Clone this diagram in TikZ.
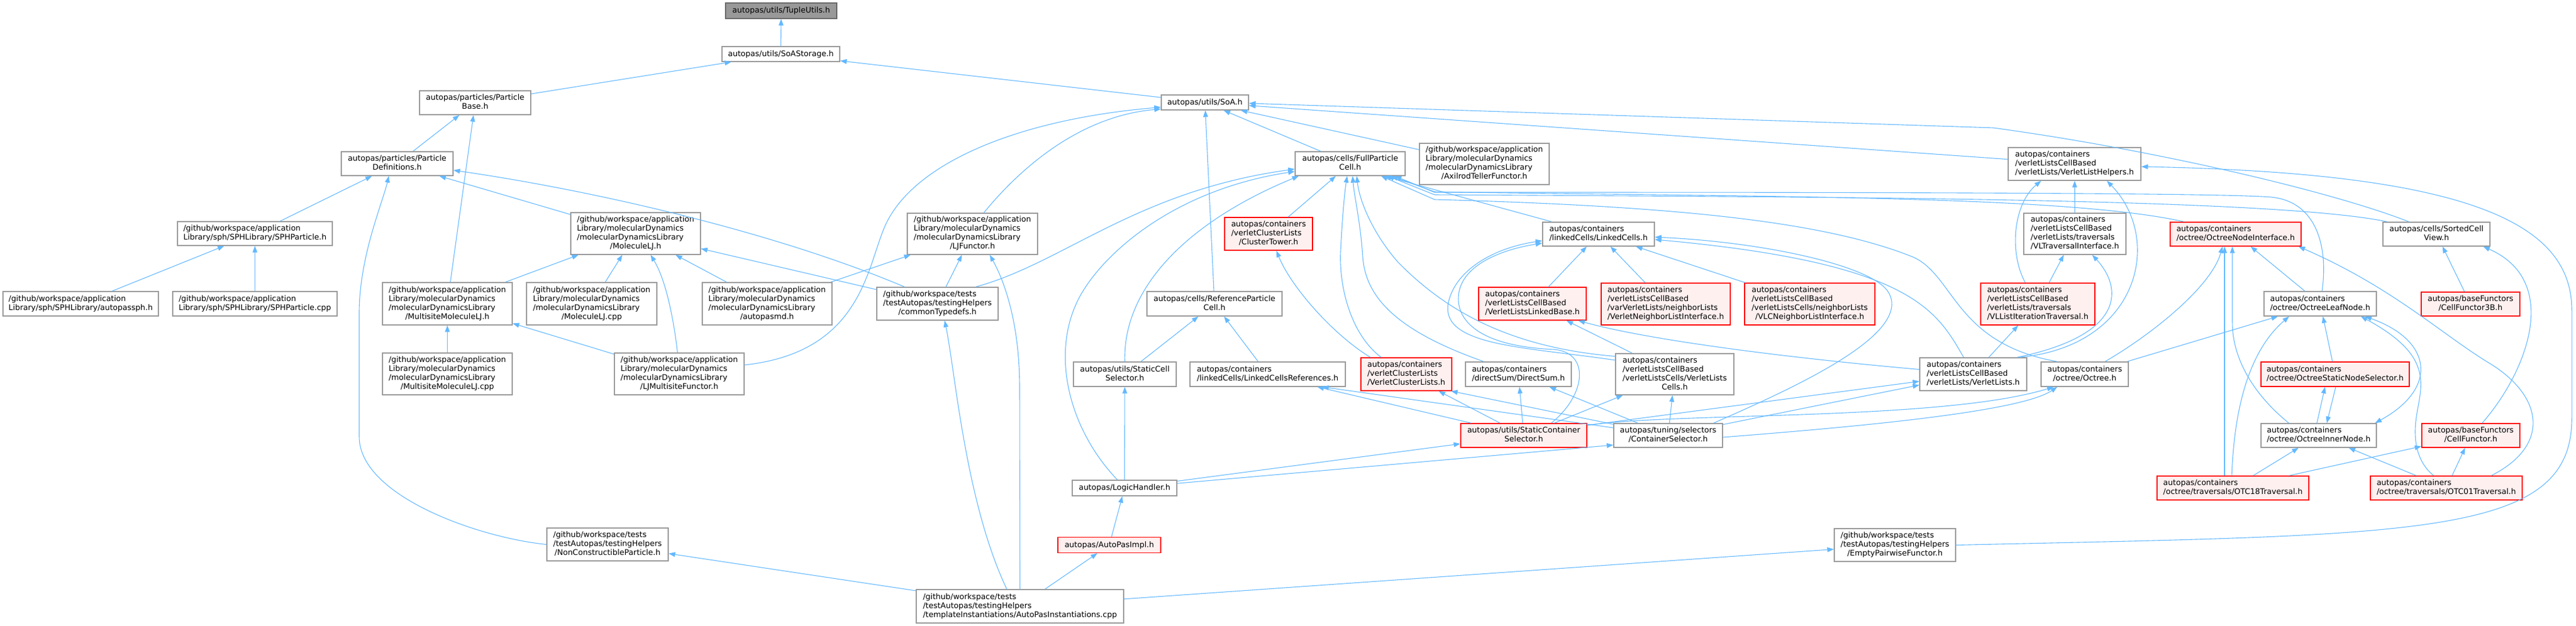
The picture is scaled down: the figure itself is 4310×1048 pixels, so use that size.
\documentclass[tikz,border=0pt]{standalone}
\usepackage{fontspec}
\setmainfont{DejaVu Sans}
\usetikzlibrary{arrows.meta}
\definecolor{edgeblue}{HTML}{63B8FF}
\definecolor{boxgray}{HTML}{999999}
\definecolor{hotfill}{HTML}{FFF0F0}
\definecolor{rootfill}{HTML}{999999}
\definecolor{rootline}{HTML}{666666}
\newcommand{\lbl}[2]{\begin{tabular}{@{}l@{}}#1\\\multicolumn{1}{@{}c@{}}{#2}\end{tabular}}
\newcommand{\mdlib}{/github/workspace/application\\Library/molecularDynamics\\/molecularDynamicsLibrary}
\newcommand{\thelp}{/github/workspace/tests\\/testAutopas/testingHelpers}
\newcommand{\vlcb}{autopas/containers\\/verletListsCellBased}
\tikzset{
  box/.style={draw=boxgray, line width=1.4pt, fill=white, inner sep=0pt, font=\fontsize{13}{15}\selectfont},
  hot/.style={box, draw=red, fill=hotfill},
  rootbox/.style={box, draw=rootline, fill=rootfill},
  sz/.style 2 args={minimum width=#1pt, minimum height=#2pt},
  dep/.style={->, draw=edgeblue, line width=1.1pt},
}
\begin{document}
\begin{tikzpicture}[x=1pt, y=-1pt, >={Triangle[length=11pt,width=8pt]}]
\useasboundingbox (0,0) rectangle (4310,1048);

\node[rootbox, sz={186}{26}] (tuple) at (1307,18) {autopas/utils/TupleUtils.h};
\node[box, sz={197}{25}] (soastor) at (1306.5,90.5) {autopas/utils/SoAStorage.h};
\node[box, sz={186}{40}] (pbase) at (795,172) {\lbl{autopas/particles/Particle}{Base.h}};
\node[box, sz={146}{25}] (soa) at (2016,171.5) {autopas/utils/SoA.h};
\node[box, sz={187}{40}] (pdef) at (664.5,274) {\lbl{autopas/particles/Particle}{Definitions.h}};
\node[box, sz={184}{40}] (fpc) at (2259,274) {\lbl{autopas/cells/FullParticle}{Cell.h}};
\node[box, sz={217}{69}] (axil) at (2483.5,274.5) {\lbl{\mdlib}{/AxilrodTellerFunctor.h}};
\node[box, sz={222}{55}] (vlhelp) at (3471,274.5) {\lbl{\vlcb}{/verletLists/VerletListHelpers.h}};
\node[box, sz={259}{40}] (sph) at (426.5,391) {\lbl{/github/workspace/application}{Library/sph/SPHLibrary/SPHParticle.h}};
\node[box, sz={217}{70}] (mlj) at (1063.5,391) {\lbl{\mdlib}{/MoleculeLJ.h}};
\node[box, sz={218}{69}] (ljf) at (1627,391.5) {\lbl{\mdlib}{/LJFunctor.h}};
\node[hot, sz={147}{55}] (ctower) at (2122.5,391.5) {\lbl{autopas/containers\\/verletClusterLists}{/ClusterTower.h}};
\node[box, sz={187}{40}] (lc) at (2674.5,392) {\lbl{autopas/containers}{/linkedCells/LinkedCells.h}};
\node[box, sz={171}{69}] (vltrav) at (3471.5,391.5) {\lbl{\vlcb\\/verletLists/traversals}{/VLTraversalInterface.h}};
\node[hot, sz={219}{40}] (oni) at (3740.5,392) {\lbl{autopas/containers}{/octree/OctreeNodeInterface.h}};
\node[box, sz={179}{40}] (scv) at (4076.5,392) {\lbl{autopas/cells/SortedCell}{View.h}};
\node[box, sz={260}{41}] (assph) at (135,508.5) {\lbl{/github/workspace/application}{Library/sph/SPHLibrary/autopassph.h}};
\node[box, sz={275}{41}] (sphcpp) at (426.5,508.5) {\lbl{/github/workspace/application}{Library/sph/SPHLibrary/SPHParticle.cpp}};
\node[box, sz={217}{71}] (mmlj) at (748.5,508.5) {\lbl{\mdlib}{/MultisiteMoleculeLJ.h}};
\node[box, sz={218}{71}] (mljcpp) at (990,508.5) {\lbl{\mdlib}{/MoleculeLJ.cpp}};
\node[box, sz={217}{71}] (amd) at (1283.5,508.5) {\lbl{\mdlib}{/autopasmd.h}};
\node[box, sz={203}{55}] (ctypes) at (1568.5,508.5) {\lbl{\thelp}{/commonTypedefs.h}};
\node[box, sz={226}{41}] (rpc) at (2032,508.5) {\lbl{autopas/cells/ReferenceParticle}{Cell.h}};
\node[hot, sz={180}{55}] (vllb) at (2564,508.5) {\lbl{\vlcb}{/VerletListsLinkedBase.h}};
\node[hot, sz={216}{70}] (vvnli) at (2787,509) {\lbl{\vlcb\\/varVerletLists/neighborLists}{/VerletNeighborListInterface.h}};
\node[hot, sz={218}{70}] (vlcnli) at (3028,509) {\lbl{\vlcb\\/verletListsCells/neighborLists}{/VLCNeighborListInterface.h}};
\node[hot, sz={191}{70}] (vlit) at (3409.5,509) {\lbl{\vlcb\\/verletLists/traversals}{/VLListIterationTraversal.h}};
\node[box, sz={188}{41}] (oleaf) at (3882,508.5) {\lbl{autopas/containers}{/octree/OctreeLeafNode.h}};
\node[hot, sz={165}{40}] (cf3b) at (4133.5,509) {\lbl{autopas/baseFunctors}{/CellFunctor3B.h}};
\node[box, sz={217}{70}] (mmljcpp) at (748.5,626) {\lbl{\mdlib}{/MultisiteMoleculeLJ.cpp}};
\node[box, sz={217}{70}] (ljmf) at (1136.5,626) {\lbl{\mdlib}{/LJMultisiteFunctor.h}};
\node[box, sz={172}{41}] (scs) at (1882,626.5) {\lbl{autopas/utils/StaticCell}{Selector.h}};
\node[box, sz={260}{41}] (lcr) at (2121,626.5) {\lbl{autopas/containers}{/linkedCells/LinkedCellsReferences.h}};
\node[hot, sz={152}{55}] (vcl) at (2353,626.5) {\lbl{autopas/containers\\/verletClusterLists}{/VerletClusterLists.h}};
\node[box, sz={177}{41}] (dsum) at (2540.5,626.5) {\lbl{autopas/containers}{/directSum/DirectSum.h}};
\node[box, sz={198}{69}] (vlc) at (2802,626.5) {\lbl{\vlcb\\/verletListsCells/VerletLists}{Cells.h}};
\node[box, sz={179}{55}] (vl) at (3301.5,626.5) {\lbl{\vlcb}{/verletLists/VerletLists.h}};
\node[box, sz={146}{41}] (oct) at (3488,626.5) {\lbl{autopas/containers}{/octree/Octree.h}};
\node[hot, sz={248}{41}] (osns) at (3907,626.5) {\lbl{autopas/containers}{/octree/OctreeStaticNodeSelector.h}};
\node[hot, sz={211}{40}] (sconts) at (2549.5,729) {\lbl{autopas/utils/StaticContainer}{Selector.h}};
\node[box, sz={182}{40}] (csel) at (2791,729) {\lbl{autopas/tuning/selectors}{/ContainerSelector.h}};
\node[box, sz={193}{40}] (oin) at (3879.5,729) {\lbl{autopas/containers}{/octree/OctreeInnerNode.h}};
\node[hot, sz={164}{40}] (cfun) at (4134,729) {\lbl{autopas/baseFunctors}{/CellFunctor.h}};
\node[box, sz={175}{26}] (lh) at (1881.5,817) {autopas/LogicHandler.h};
\node[hot, sz={254}{40}] (otc18) at (3736,817) {\lbl{autopas/containers}{/octree/traversals/OTC18Traversal.h}};
\node[hot, sz={254}{40}] (otc01) at (4093,817) {\lbl{autopas/containers}{/octree/traversals/OTC01Traversal.h}};
\node[box, sz={203}{55}] (nonc) at (1016.5,911.5) {\lbl{\thelp}{/NonConstructibleParticle.h}};
\node[box, sz={203}{55}] (empty) at (3170.5,912.5) {\lbl{\thelp}{/EmptyPairwiseFunctor.h}};
\node[hot, sz={172}{26}] (apimpl) at (1856,912.5) {autopas/AutoPasImpl.h};
\node[box, sz={347}{56}] (apinst) at (1706.5,1015) {\lbl{\thelp}{/templateInstantiations/AutoPasInstantiations.cpp}};

\draw[dep] (soastor) -- (tuple);
\draw[dep] (pbase) -- (soastor);
\draw[dep] (soa) -- (soastor);
\draw[dep] (pdef) -- (pbase);
\draw[dep] (mmlj) -- (pbase);
\draw[dep] (sph) -- (pdef);
\draw[dep] (mlj) -- (pdef);
\draw[dep] ([xshift=-55pt]ctypes.north) .. controls (1300,390) and (1000,320) .. ([yshift=-11pt]pdef.east);
\draw[dep] (nonc.west) .. controls (800,900) and (601,830) .. (601,731) -- (601,524) .. controls (601,430) and (640,340) .. ([xshift=-14pt]pdef.south);
\draw[dep] (assph) -- (sph);
\draw[dep] (sphcpp) -- (sph);
\draw[dep] (mmlj) -- (mlj);
\draw[dep] (mljcpp) -- (mlj);
\draw[dep] (amd) -- (mlj);
\draw[dep] ([xshift=-3pt]ljmf.north) .. controls (1128,540) and (1115,470) .. ([xshift=25pt]mlj.south);
\draw[dep] (ctypes) -- (mlj);
\draw[dep] (mmljcpp) -- (mmlj);
\draw[dep] (ljmf) -- (mmlj);
\draw[dep] (amd) -- (ljf);
\draw[dep] (ctypes) -- (ljf);
\draw[dep] (apinst.north) -- (1706,650) .. controls (1706,540) and (1680,470) .. ([xshift=29pt]ljf.south);
\draw[dep] ([xshift=-22pt]apinst.north) .. controls (1615,840) and (1598,620) .. ([xshift=12pt]ctypes.south);
\draw[dep] (apinst) -- (apimpl);
\draw[dep] (apinst) -- (nonc);
\draw[dep] (apinst) -- (empty);
\draw[dep] (apimpl) -- (lh);
\draw[dep] (lh) -- (scs);
\draw[dep] (lh) -- ([yshift=-14pt]sconts.west);
\draw[dep] (lh) -- ([yshift=-16pt]csel.west);
\draw[dep] ([xshift=-12pt]lh.north) .. controls (1790,720) and (1760,600) .. (1800,510) .. controls (1830,440) and (1950,320) .. ([yshift=-13pt]fpc.west);
\draw[dep] (scs.north) .. controls (1878,480) and (1990,370) .. ([xshift=-86pt]fpc.south);
\draw[dep] (scs) -- (rpc);
\draw[dep] (lcr) -- (rpc);
\draw[dep] (rpc) -- (soa);
\draw[dep] (fpc) -- (soa);
\draw[dep] ([xshift=64pt]ctypes.north) .. controls (1780,440) and (1900,320) .. ([yshift=-9pt]fpc.west);
\draw[dep] ([xshift=19pt]ljf.north) .. controls (1700,290) and (1800,195) .. ([yshift=-11pt]soa.west);
\draw[dep] ([yshift=15pt]ljmf.east) .. controls (1440,590) and (1450,450) .. (1480,380) .. controls (1525,275) and (1700,200) .. ([yshift=-8pt]soa.west);
\draw[dep] (axil) -- (soa);
\draw[dep] (vlhelp) -- (soa);
\draw[dep] ([xshift=-46pt]scv.north) .. controls (3900,320) and (3600,250) .. (3335,214) -- ([yshift=-1.5pt]soa.east);
\draw[dep] (empty.east) .. controls (4050,895) and (4303,900) .. (4303,700) -- (4303,520) .. controls (4303,380) and (4150,290) .. ([yshift=-4.5pt]vlhelp.east);
\draw[dep] (vltrav) -- (vlhelp);
\draw[dep] ([xshift=-21pt]vlit.north) .. controls (3360,420) and (3370,340) .. ([xshift=-56pt]vlhelp.south);
\draw[dep] ([xshift=76pt]vl.north) .. controls (3580,580) and (3620,400) .. ([xshift=54pt]vlhelp.south);
\draw[dep] ([xshift=73pt]vl.north) .. controls (3560,560) and (3550,480) .. ([xshift=29pt]vltrav.south);
\draw[dep] (vlit) -- (vltrav);
\draw[dep] (vl) -- (vlit);
\draw[dep] ([xshift=-78pt]lc.north) -- ([xshift=-35pt]fpc.south east);
\draw[dep] (vllb) -- (lc);
\draw[dep] (vvnli) -- (lc);
\draw[dep] (vlcnli) -- (lc);
\draw[dep] ([yshift=23.5pt]vlc.west) .. controls (2550,580) and (2400,580) .. (2425,500) .. controls (2440,450) and (2500,415) .. ([yshift=-11pt]lc.west);
\draw[dep] ([xshift=46pt]sconts.north) .. controls (2655,660) and (2660,590) .. (2600,585) .. controls (2480,580) and (2440,540) .. (2440,500) .. controls (2440,450) and (2500,420) .. ([yshift=-15pt]lc.west);
\draw[dep] ([xshift=76pt]csel.north) .. controls (3000,650) and (3200,560) .. (3160,490) .. controls (3135,445) and (2950,405) .. ([yshift=-5pt]lc.east);
\draw[dep] ([xshift=-16pt]vl.north) .. controls (3240,520) and (3200,440) .. ([yshift=-9pt]lc.east);
\draw[dep] ([yshift=8pt]vl.west) .. controls (3000,600) and (2760,570) .. ([xshift=-14pt]vllb.south east);
\draw[dep] (vlc) -- (vllb);
\draw[dep] ([yshift=30pt]vlc.west) .. controls (2500,580) and (2400,500) .. (2340,440) .. controls (2300,395) and (2275,340) .. ([xshift=11pt]fpc.south);
\draw[dep] ([xshift=-58pt]dsum.north) .. controls (2340,555) and (2285,500) .. (2280,430) .. controls (2276,370) and (2266,330) .. ([xshift=4pt]fpc.south);
\draw[dep] ([xshift=-42pt]vcl.north) .. controls (2260,560) and (2240,480) .. (2243,420) .. controls (2246,360) and (2250,320) .. ([xshift=-5pt]fpc.south);
\draw[dep] ([xshift=-60pt]vcl.north) .. controls (2230,560) and (2160,480) .. ([xshift=13pt]ctower.south);
\draw[dep] (ctower) -- (fpc);
\draw[dep] ([xshift=-86pt]oni.north) .. controls (3450,325) and (2900,330) .. (2400,321) -- ([xshift=-24pt]fpc.south east);
\draw[dep] ([xshift=3pt]oleaf.north) .. controls (3895,420) and (3880,338) .. (3800,330) .. controls (3700,322) and (3000,322) .. (2400,322) -- ([xshift=-18pt]fpc.south east);
\draw[dep] ([xshift=-82pt]scv.north) .. controls (3800,330) and (3000,330) .. (2400,326) -- ([xshift=-30pt]fpc.south east);
\draw[dep] ([xshift=-46pt]oct.north) .. controls (3270,575) and (3270,460) .. (3200,430) .. controls (3050,370) and (2800,345) .. (2400,334) -- ([xshift=-41pt]fpc.south east);
\draw[dep] ([xshift=34pt]oct.north) .. controls (3600,560) and (3700,480) .. ([xshift=-22pt]oni.south);
\draw[dep] (oct) -- (oleaf);
\draw[dep] ([xshift=-14pt]otc18.north) -- ([xshift=-18.5pt]oni.south);
\draw[dep] ([xshift=-50pt]oin.north) .. controls (3770,660) and (3735,600) .. (3735,540) -- ([xshift=-5.5pt]oni.south);
\draw[dep] (oleaf) -- (oni);
\draw[dep] ([xshift=75pt]otc01.north) .. controls (4270,745) and (4255,660) .. (4160,605) .. controls (4080,555) and (4000,480) .. ([xshift=-5pt]oni.south east);
\draw[dep] ([xshift=-2pt]otc18.north) .. controls (3738,690) and (3760,590) .. ([xshift=-52pt]oleaf.south);
\draw[dep, <->] ([xshift=75pt]oleaf.south) .. controls (4070,570) and (4080,650) .. ([xshift=-3pt]oin.north east);
\draw[dep] ([xshift=-21pt]otc01.north) .. controls (4045,775) and (4038,740) .. (4042,705) .. controls (4048,650) and (4080,600) .. ([xshift=68pt]oleaf.south);
\draw[dep] (osns) -- (oleaf);
\draw[dep] ([xshift=-3pt]oin.north) -- ([xshift=-17pt]osns.south);
\draw[dep] ([xshift=1pt]osns.south) -- ([xshift=13.5pt]oin.north);
\draw[dep] (otc18) -- (oin);
\draw[dep] (otc01) -- (oin);
\draw[dep] (otc18) -- (cfun);
\draw[dep] (otc01) -- (cfun);
\draw[dep] ([xshift=19pt]cfun.north) .. controls (4230,620) and (4285,470) .. ([xshift=-12pt]scv.south east);
\draw[dep] (cf3b) -- (scv);
\draw[dep] (sconts) -- ([xshift=83pt]lcr.south);
\draw[dep] (csel) -- ([xshift=91pt]lcr.south);
\draw[dep] (sconts) -- (vcl);
\draw[dep] (csel) -- ([xshift=-2pt]vcl.south east);
\draw[dep] (sconts) -- (dsum);
\draw[dep] (csel) -- (dsum);
\draw[dep] (sconts) -- (vlc);
\draw[dep] (csel) -- (vlc);
\draw[dep] ([yshift=17pt]sconts.east) -- (vl);
\draw[dep] (csel) -- (vl);
\draw[dep] ([yshift=17pt]sconts.east) .. controls (2800,690) and (3250,705) .. ([xshift=-52pt]oct.south);
\draw[dep] ([yshift=-3pt]csel.east) .. controls (3100,715) and (3380,690) .. ([xshift=-46pt]oct.south);
\end{tikzpicture}
\end{document}
